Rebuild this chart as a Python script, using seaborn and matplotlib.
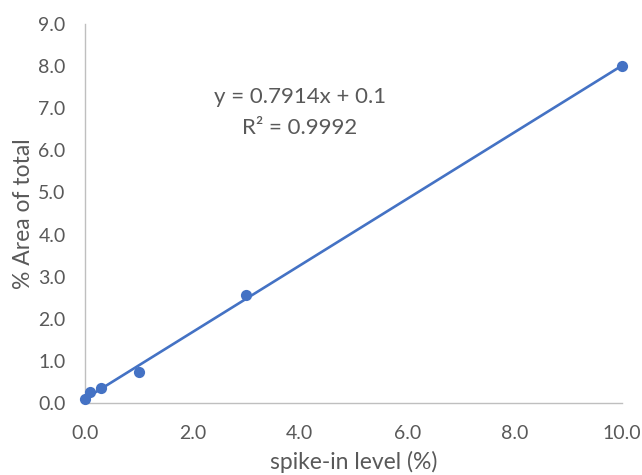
import matplotlib
matplotlib.use("Agg")
import matplotlib.pyplot as plt
import seaborn as sns
import numpy as np
import pandas as pd

spike_in = [0.0, 0.1, 0.3, 1.0, 3.0, 10.0]
area_pct = [0.10, 0.25, 0.35, 0.73, 2.57, 8.0]
slope = 0.7914
intercept = 0.1
x_ticks = [0, 2, 4, 6, 8, 10]
y_ticks = [0, 1, 2, 3, 4, 5, 6, 7, 8, 9]

sns.set_theme(style="white")
plt.rcParams['font.family'] = ['Lato', 'DejaVu Sans']

df = pd.DataFrame({"x": spike_in, "y": area_pct})
fit_x = np.array([min(spike_in), max(spike_in)])
fit_df = pd.DataFrame({"x": fit_x, "y": slope * fit_x + intercept})

fig = plt.figure(figsize=(6.42, 4.75), dpi=100)
ax = fig.add_axes([0.1324, 0.1516, 0.8366, 0.7979])
blue = "#4472C4"
sns.lineplot(data=fit_df, x="x", y="y", ax=ax, color=blue, linewidth=1.9)
sns.scatterplot(data=df, x="x", y="y", ax=ax, color=blue, s=65, edgecolor=blue, linewidth=0, zorder=3)

ax.set_xlim(0, 10)
ax.set_ylim(0, 9)
ax.set_xticks(x_ticks)
ax.set_yticks(y_ticks)
ax.set_xticklabels([f"{v:.1f}" for v in x_ticks])
ax.set_yticklabels([f"{v:.1f}" for v in y_ticks])
ax.tick_params(axis="both", length=0, labelsize=14, colors="#595959")
ax.tick_params(axis="x", pad=16)
ax.tick_params(axis="y", pad=14)
for s in ["top", "right"]:
    ax.spines[s].set_visible(False)
for s in ["left", "bottom"]:
    ax.spines[s].set_color("#BFBFBF")
    ax.spines[s].set_linewidth(1.0)
ax.set_xlabel("spike-in level (%)", fontsize=16.5, color="#595959", labelpad=6)
ax.set_ylabel("% Area of total", fontsize=16.5, color="#595959", labelpad=3)
for c in ax.collections:
    c.set_clip_on(False)

ax.text(4.0, 7.27, "y = 0.7914x + 0.1", ha="center", va="center", fontsize=16, color="#595959")
ax.text(4.0, 6.53, "R² = 0.9992", ha="center", va="center", fontsize=16, color="#595959")

fig.savefig("out.png", dpi=100)
